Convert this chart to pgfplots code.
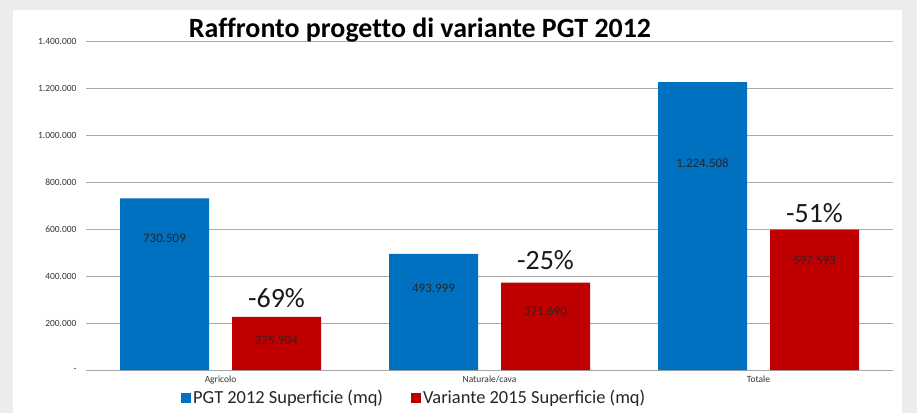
\documentclass[border=0pt]{standalone}
\usepackage{pgfplots}
\pgfplotsset{compat=1.18}
\usepackage{fontspec}
\setmainfont{Carlito}
\definecolor{xblue}{HTML}{0070C0}
\definecolor{xred}{HTML}{C00000}
\begin{document}
\begin{tikzpicture}[x=1bp,y=1bp]
\fill[gray!15] (0,0) rectangle (917,413);
\fill[white] (13,0) rectangle (902,403);
\path[use as bounding box] (0,0) rectangle (917,413);
\begin{axis}[
  at={(86bp,43bp)}, anchor=south west, scale only axis,
  width=807bp, height=329bp,
  xmin=-0.5, xmax=2.5, ymin=0, ymax=1400000,
  axis lines*=left,
  y axis line style={draw=none},
  x axis line style={gray!70, line width=0.8pt},
  major tick length=0pt,
  ymajorgrids, grid style={gray!65, line width=0.6pt},
  ytick={0,200000,400000,600000,800000,1000000,1200000,1400000},
  yticklabels={{-\hspace{5bp}},200.000,400.000,600.000,800.000,1.000.000,1.200.000,1.400.000},
  scaled y ticks=false,
  xtick={0,1,2},
  xticklabels={Agricolo,Naturale/cava,Totale},
  tick label style={font=\fontsize{9.5}{11}\selectfont, text=black!80},
  yticklabel style={xshift=-6bp},
  xticklabel style={yshift=-2bp},
  legend image code/.code={\fill[#1] (0bp,-5bp) rectangle (10bp,5bp);},
  legend style={draw=none, fill=none, legend columns=2,
    font=\fontsize{18.5}{20}\selectfont, text=black!85,
    /tikz/every even column/.append style={column sep=26bp},
    at={(axis description cs:0.114,-0.085)}, anchor=west},
]
\addplot[ybar, bar width=89bp, bar shift=-56bp, fill=xblue, draw=none]
  coordinates {(0,730509) (1,493999) (2,1224508)};
\addlegendentry{PGT 2012 Superficie (mq)}
\addplot[ybar, bar width=89bp, bar shift=56bp, fill=xred, draw=none]
  coordinates {(0,225904) (1,371690) (2,597593)};
\addlegendentry{Variante 2015 Superficie (mq)}
% value labels inside bars
\addplot[draw=none, forget plot, nodes near coords, point meta=explicit symbolic,
  every node near coord/.append style={anchor=center, xshift=-56bp, font=\fontsize{13}{15}\selectfont, text=black!85}]
  table[meta=lab] {
x y lab
0 561700 730.509
1 349000 493.999
2 880800 1.224.508
};
\addplot[draw=none, forget plot, nodes near coords, point meta=explicit symbolic,
  every node near coord/.append style={anchor=center, xshift=56bp, font=\fontsize{13}{15}\selectfont, text=black!85}]
  table[meta=lab] {
x y lab
0 127700 225.904
1 251000 371.690
2 468000 597.593
};
% percentage labels
\addplot[draw=none, forget plot, nodes near coords, point meta=explicit symbolic,
  every node near coord/.append style={anchor=center, xshift=56bp, font=\fontsize{28}{30}\selectfont, text=black!90}]
  table[meta=lab] {
x y lab
0 306400 -69\%
1 468000 -25\%
2 668000 -51\%
};
\end{axis}
\node[anchor=base, inner sep=0pt, font=\bfseries\fontsize{28}{30}\selectfont\addfontfeatures{Ligatures=NoCommon}, text=black] at (420,376) {Raffronto progetto di variante PGT 2012};
\end{tikzpicture}
\end{document}
